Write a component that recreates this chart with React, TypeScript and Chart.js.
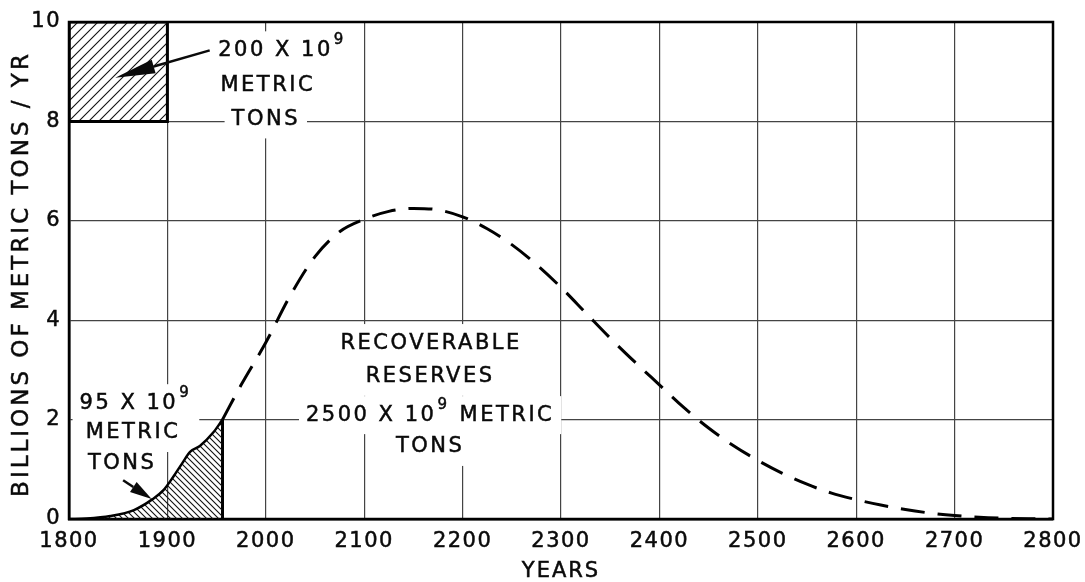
import React, { useEffect, useRef } from 'react';
import { Chart, registerables } from 'chart.js';

Chart.register(...registerables);

// ---- data ----
const histYears = [1800, 1818, 1842, 1866, 1885, 1896, 1906, 1915, 1923, 1933, 1947, 1956];
const histValues = [0, 0.01, 0.06, 0.18, 0.4, 0.58, 0.85, 1.12, 1.35, 1.47, 1.75, 2.0];

const projYears = [1956, 1975, 2000, 2025, 2050, 2075, 2100, 2125, 2150, 2175, 2200, 2225, 2250, 2275, 2300, 2325, 2350, 2375, 2400, 2425, 2450, 2475, 2500, 2525, 2550, 2575, 2600, 2625, 2650, 2675, 2700, 2725, 2750, 2775, 2800];
const projValues = [2.0, 2.7, 3.55, 4.5, 5.28, 5.78, 6.03, 6.19, 6.25, 6.22, 6.08, 5.84, 5.52, 5.12, 4.66, 4.15, 3.64, 3.16, 2.7, 2.24, 1.83, 1.48, 1.18, 0.92, 0.7, 0.52, 0.39, 0.28, 0.19, 0.12, 0.07, 0.035, 0.015, 0.005, 0];

const boxYears = [1800, 1800, 1900, 1900, 1800];
const boxValues = [8, 10, 10, 8, 8];

const cutoffYears = [1956, 1956];
const cutoffValues = [0, 2];

const xTicks = [1800, 1900, 2000, 2100, 2200, 2300, 2400, 2500, 2600, 2700, 2800];
const yTicks = [0, 2, 4, 6, 8, 10];

const noteTexts = ['200 X 10^9', 'METRIC', 'TONS', '95 X 10^9', 'METRIC', 'TONS', 'RECOVERABLE', 'RESERVES', '2500 X 10^9 METRIC', 'TONS'];
const noteYears = [2017, 2002, 2000, 1868, 1865, 1854, 2168, 2167, 2167, 2167];
const noteValues = [9.43, 8.72, 8.04, 2.33, 1.73, 1.11, 3.54, 2.86, 2.09, 1.45];

const arrowFromYears = [1943, 1855];
const arrowFromValues = [9.43, 0.78];
const arrowToYears = [1847, 1884];
const arrowToValues = [8.88, 0.4];

const xTitle = 'YEARS';
const yTitle = 'BILLIONS OF METRIC TONS / YR';

const FONT = '"DejaVu Sans", sans-serif';
const INK = '#0a0a0a';
const TEXT_STROKE = 0.5;

function makeHatch(ctx: CanvasRenderingContext2D, size: number, dir: 'back' | 'fwd', lw: number) {
  const c = document.createElement('canvas');
  c.width = size;
  c.height = size;
  const g = c.getContext('2d')!;
  g.strokeStyle = '#111';
  g.lineWidth = lw;
  g.beginPath();
  if (dir === 'back') {
    g.moveTo(-1, -1); g.lineTo(size + 1, size + 1);
    g.moveTo(-1, size - 1); g.lineTo(1, size + 1);
    g.moveTo(size - 1, -1); g.lineTo(size + 1, 1);
  } else {
    g.moveTo(-1, size + 1); g.lineTo(size + 1, -1);
    g.moveTo(-1, 1); g.lineTo(1, -1);
    g.moveTo(size - 1, size + 1); g.lineTo(size + 1, size - 1);
  }
  g.stroke();
  return ctx.createPattern(c, 'repeat')!;
}

function splitSup(t: string) {
  const i = t.indexOf('^');
  if (i < 0) return { a: t, s: '', b: '' };
  return { a: t.slice(0, i), s: t.slice(i + 1, i + 2), b: t.slice(i + 2) };
}

const MAIN_FONT = `21px ${FONT}`;
const SUP_FONT = `15px ${FONT}`;

function measureNote(ctx: CanvasRenderingContext2D, t: string) {
  const p = splitSup(t);
  ctx.font = MAIN_FONT;
  const wa = ctx.measureText(p.a).width;
  const wb = p.b ? ctx.measureText(p.b).width : 0;
  ctx.font = SUP_FONT;
  const ws = p.s ? ctx.measureText(p.s).width + 2 : 0;
  return { p, wa, ws, wb, w: wa + ws + wb };
}

function ink(ctx: CanvasRenderingContext2D, t: string, px: number, py: number) {
  ctx.fillText(t, px, py);
  ctx.strokeText(t, px, py);
}

const annotPlugin = {
  id: 'annot',
  beforeDraw(chart: any) {
    chart.ctx.letterSpacing = '1.5px';
  },
  beforeDatasetsDraw(chart: any) {
    const { ctx, chartArea, scales } = chart;
    const x = scales.x, y = scales.y;
    ctx.save();
    ctx.letterSpacing = '2.5px';
    ctx.fillStyle = '#fff';
    noteTexts.forEach((t, i) => {
      const m = measureNote(ctx, t);
      const cx = x.getPixelForValue(noteYears[i]);
      const cy = y.getPixelForValue(noteValues[i]);
      ctx.fillRect(cx - m.w / 2 - 7, cy - 19, m.w + 14, 38);
    });
    ctx.strokeStyle = '#000';
    ctx.lineWidth = 2.5;
    ctx.strokeRect(chartArea.left, chartArea.top, chartArea.right - chartArea.left, chartArea.bottom - chartArea.top);
    ctx.restore();
  },
  afterDatasetsDraw(chart: any) {
    const { ctx, chartArea, scales } = chart;
    const x = scales.x, y = scales.y;
    ctx.save();
    ctx.fillStyle = INK;
    ctx.strokeStyle = INK;
    ctx.lineWidth = TEXT_STROKE;
    ctx.textBaseline = 'middle';
    ctx.textAlign = 'left';
    ctx.letterSpacing = '2.5px';
    noteTexts.forEach((t, i) => {
      const m = measureNote(ctx, t);
      const cx = x.getPixelForValue(noteYears[i]);
      const cy = y.getPixelForValue(noteValues[i]);
      let px = cx - m.w / 2;
      ctx.font = MAIN_FONT;
      ink(ctx, m.p.a, px, cy);
      px += m.wa;
      if (m.p.s) {
        ctx.font = SUP_FONT;
        ink(ctx, m.p.s, px + 1, cy - 10);
        px += m.ws;
      }
      if (m.p.b) {
        ctx.font = MAIN_FONT;
        ink(ctx, m.p.b, px, cy);
      }
    });

    // arrows
    const heads = [[40, 7], [22, 6]];
    arrowFromYears.forEach((_, i) => {
      const x0 = x.getPixelForValue(arrowFromYears[i]);
      const y0 = y.getPixelForValue(arrowFromValues[i]);
      const x1 = x.getPixelForValue(arrowToYears[i]);
      const y1 = y.getPixelForValue(arrowToValues[i]);
      const ang = Math.atan2(y1 - y0, x1 - x0);
      const [hl, hw] = heads[i];
      const bx = x1 - Math.cos(ang) * hl;
      const by = y1 - Math.sin(ang) * hl;
      ctx.lineWidth = 2.5;
      ctx.beginPath();
      ctx.moveTo(x0, y0);
      ctx.lineTo(bx, by);
      ctx.stroke();
      ctx.beginPath();
      ctx.moveTo(x1, y1);
      ctx.lineTo(bx + Math.sin(ang) * hw, by - Math.cos(ang) * hw);
      ctx.lineTo(bx - Math.sin(ang) * hw, by + Math.cos(ang) * hw);
      ctx.closePath();
      ctx.fill();
    });

    // axis titles
    ctx.lineWidth = TEXT_STROKE;
    ctx.font = `21px ${FONT}`;
    ctx.letterSpacing = '2px';
    ctx.textAlign = 'center';
    ink(ctx, xTitle, (chartArea.left + chartArea.right) / 2, 572);
    ctx.translate(22, 274);
    ctx.rotate(-Math.PI / 2);
    ctx.font = `23px ${FONT}`;
    ctx.letterSpacing = '3px';
    ink(ctx, yTitle, 0, 0);
    ctx.restore();
  },
};

export default function App() {
  const ref = useRef<HTMLCanvasElement>(null);
  useEffect(() => {
    document.body.style.margin = '0';
    const canvas = ref.current!;
    const ctx = canvas.getContext('2d')!;
    const upper = makeHatch(ctx, 10, 'fwd', 1.1);
    const lower = makeHatch(ctx, 6, 'back', 1.1);
    const pts = (xs: number[], ys: number[]) => xs.map((v, i) => ({ x: v, y: ys[i] }));

    const chart = new Chart(canvas, {
      type: 'line',
      data: {
        datasets: [
          {
            data: pts(boxYears, boxValues),
            borderColor: '#000',
            borderWidth: 3,
            backgroundColor: upper,
            fill: 'shape',
            pointRadius: 0,
            tension: 0,
          },
          {
            data: pts(histYears, histValues),
            borderColor: '#000',
            borderWidth: 2.5,
            backgroundColor: lower,
            fill: 'origin',
            pointRadius: 0,
            cubicInterpolationMode: 'monotone',
          },
          {
            data: pts(cutoffYears, cutoffValues),
            borderColor: '#000',
            borderWidth: 3,
            fill: false,
            pointRadius: 0,
          },
          {
            data: pts(projYears, projValues),
            borderColor: '#000',
            borderWidth: 3,
            borderDash: [24, 13],
            fill: false,
            pointRadius: 0,
            cubicInterpolationMode: 'monotone',
          },
        ],
      } as any,
      options: {
        responsive: false,
        animation: false,
        events: [],
        layout: { padding: { left: 0, top: 22, right: 32, bottom: 0 } },
        plugins: {
          legend: { display: false },
          tooltip: { enabled: false },
        },
        scales: {
          x: {
            type: 'linear',
            min: 1800,
            max: 2800,
            afterBuildTicks: (s: any) => { s.ticks = xTicks.map((v) => ({ value: v })); },
            afterFit: (s: any) => { s.height = 63; s.paddingLeft = 0; s.paddingRight = 0; },
            ticks: {
              callback: (v: any) => String(v),
              font: { family: FONT, size: 21 },
              color: INK,
              textStrokeColor: INK,
              textStrokeWidth: TEXT_STROKE,
              padding: 10,
              maxRotation: 0,
              autoSkip: false,
            },
            grid: { color: '#444', lineWidth: 1.2, drawTicks: false },
            border: { color: '#000', width: 2.5 },
          },
          y: {
            type: 'linear',
            min: 0,
            max: 10,
            afterBuildTicks: (s: any) => { s.ticks = yTicks.map((v) => ({ value: v })); },
            afterFit: (s: any) => { s.width = 69; s.paddingTop = 0; s.paddingBottom = 0; },
            ticks: {
              callback: (v: any) => String(v),
              font: { family: FONT, size: 21 },
              color: INK,
              textStrokeColor: INK,
              textStrokeWidth: TEXT_STROKE,
              padding: 8,
            },
            grid: { color: '#444', lineWidth: 1.2, drawTicks: false },
            border: { color: '#000', width: 2.5 },
          },
        },
      } as any,
      plugins: [annotPlugin],
    });
    return () => chart.destroy();
  }, []);
  return <canvas ref={ref} width={1085} height={582} style={{ display: 'block', width: 1085, height: 582 }} />;
}
